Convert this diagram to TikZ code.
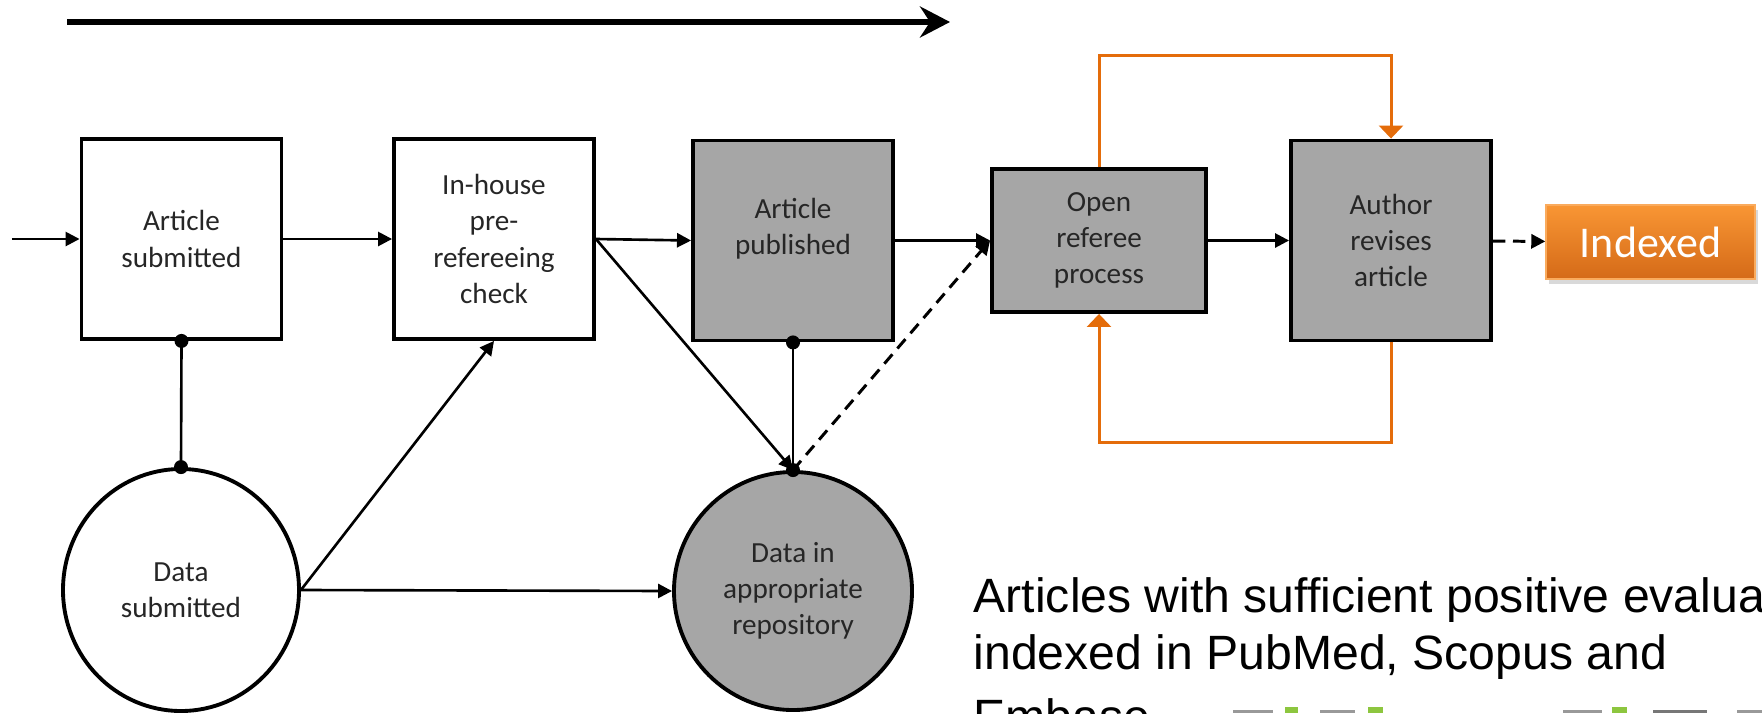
\documentclass[tikz,border=0pt]{standalone}
\usepackage{fontspec}
\setmainfont{Carlito}
\newfontfamily\notefont{Liberation Sans}
\usetikzlibrary{arrows.meta, positioning, shapes.geometric, shadows}
\definecolor{stagegray}{RGB}{166,166,166}
\definecolor{loopcol}{RGB}{228,108,10}
\definecolor{idxtop}{RGB}{249,150,52}
\definecolor{idxbot}{RGB}{212,106,24}
\definecolor{txtgray}{RGB}{38,38,38}
\definecolor{logogray}{RGB}{153,153,153}
\definecolor{logodark}{RGB}{119,119,119}
\definecolor{logogreen}{RGB}{141,198,63}

\begin{document}
\begin{tikzpicture}[
    stage/.style={rectangle, draw, line width=1.1pt, minimum width=2cm, minimum height=2cm,
                  align=center, inner sep=2pt, text=txtgray, font=\fontsize{8.3}{10.3}\selectfont},
    store/.style={ellipse, draw, line width=1.1pt, align=center, inner sep=0pt,
                  text=txtgray, font=\fontsize{8.3}{10.3}\selectfont},
    conn/.style={-{Triangle[length=4pt,width=4pt]}, line width=0.75pt},
    dconn/.style={conn, line width=0.85pt, dash pattern=on 3.5pt off 2.2pt},
    link/.style={line width=0.75pt},
    rloop/.style={-{Triangle[length=3.7pt,width=6.8pt]}, draw=loopcol, line width=0.85pt},
    timeline/.style={-{Stealth[length=0.3cm,width=0.31cm,inset=0.1cm]}, line width=1.7pt}]

    \path[use as bounding box, clip] (0,0) rectangle (17.62,-7.13);

    % time arrow
    \coordinate (t0) at (0.67,-0.22);
    \coordinate (t1) at (9.50,-0.22);
    \draw[timeline] (t0) -- (t1);

    % Stages
    \node[stage] (art) at (1.815,-2.39) {Article\\submitted};
    \node[stage] (chk) at (4.94,-2.39) {In-house\\pre-\\refereeing\\check};
    \node[stage, fill=stagegray, text depth=8pt] (pub) at (7.93,-2.405) {Article\\published};
    \node[stage, fill=stagegray, minimum width=2.14cm, minimum height=1.43cm] (ref) at (10.99,-2.405) {Open\\referee\\process};
    \node[stage, fill=stagegray] (rev) at (13.91,-2.405) {Author\\revises\\article};
    \node[rectangle, top color=idxtop, bottom color=idxbot, draw=idxtop!80!white, line width=0.4pt,
          minimum width=2.09cm, minimum height=0.74cm, text=white, font=\fontsize{12.5}{15}\selectfont,
          drop shadow={opacity=0.3, shadow xshift=0.03cm, shadow yshift=-0.05cm}] (idx) at (16.505,-2.42) {Indexed};

    % Data
    \node[store, minimum width=2.36cm, minimum height=2.42cm] (dat) at (1.81,-5.90) {Data\\submitted};
    \node[store, fill=stagegray, minimum width=2.38cm, minimum height=2.38cm] (rep) at (7.93,-5.91) {Data in\\appropriate\\repository};

    % Arrows
    \coordinate (entry) at (0.12,-2.39);
    \draw[conn] (entry) -- (art);
    \draw[conn] (art) -- (chk);
    \draw[link] (art.south) -- (dat.north);
    \draw[conn] (dat.east) -- (chk.south);
    \draw[conn] (dat.east) -- (rep.west);
    \draw[conn] (chk.east) -- (pub.west);
    \draw[conn] (chk.east) -- (rep.north);
    \draw[link] (pub.south) -- (rep.north);
    \draw[dconn] (rep.north) -- (ref.west);
    \draw[conn] (pub) -- (ref);
    \draw[conn] (ref) -- (rev);
    \draw[dconn] (rev) -- (idx);
    \fill (art.south) circle (0.07);
    \fill (dat.north) circle (0.07);
    \fill (pub.south) circle (0.07);
    \fill (rep.north) circle (0.07);

    % review loop
    \draw[rloop] (ref.north) -- ++(0,1.12) -| (rev.north);
    \draw[rloop] (rev.south) -- ++(0,-1.0) -| (ref.south);

    % Note (base = last line)
    \node[anchor=base west, align=left, inner sep=0pt, font=\notefont\fontsize{13.7}{16.2}\selectfont] (note) at (9.73,-7.33)
        {Articles with sufficient positive evaluat\\indexed in PubMed, Scopus and\\[0.07cm]Embase};

    % logo strip, cut off
    \foreach \xa/\xb/\col in {12.33/12.73/logogray, 13.20/13.55/logogray, 15.63/16.02/logogray,
                              16.53/17.07/logodark, 17.37/17.62/logogray}
        \fill[\col] (\xa,-7.10) rectangle (\xb,-7.13);
    \foreach \xa/\xb in {12.85/12.98, 13.68/13.83, 16.12/16.27}
        \fill[logogreen] (\xa,-7.07) rectangle (\xb,-7.13);
\end{tikzpicture}
\end{document}
